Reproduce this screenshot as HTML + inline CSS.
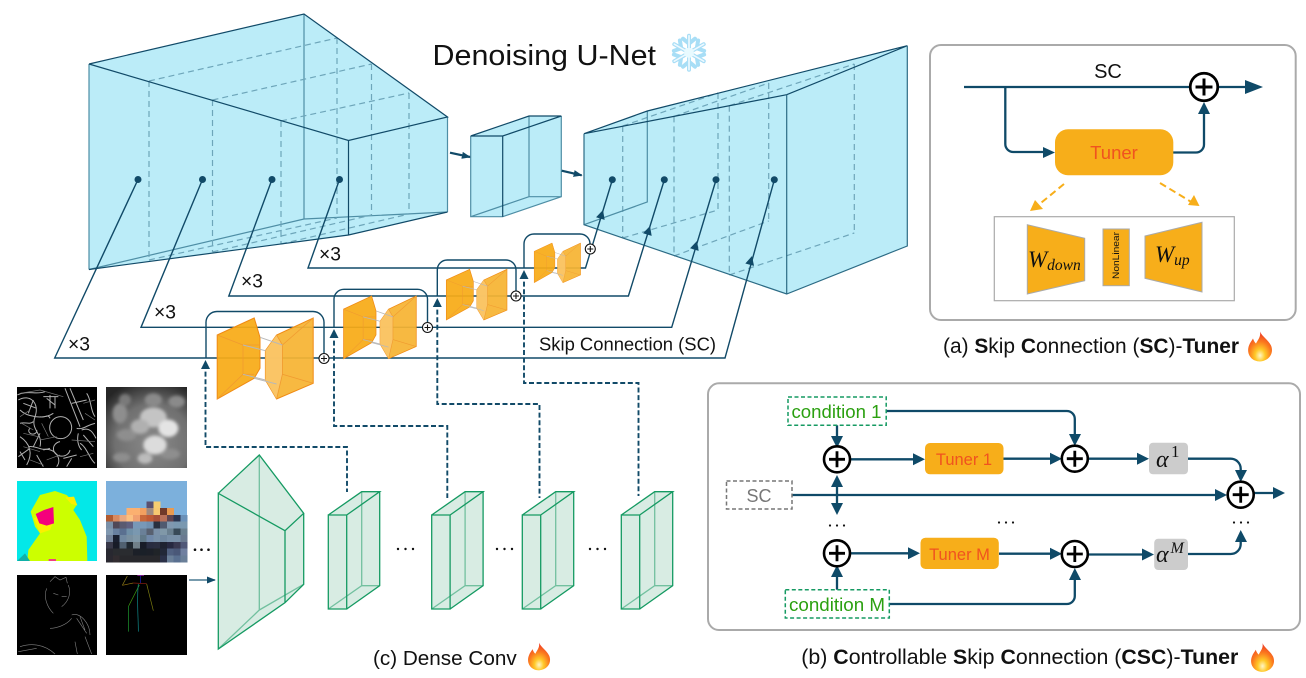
<!DOCTYPE html>
<html><head><meta charset="utf-8"><title>Denoising U-Net diagram</title>
<style>
html,body{margin:0;padding:0;background:#fff}
svg{display:block}
text{font-family:"Liberation Sans",sans-serif}
.m rect{width:1.03px;height:1.03px}
.l{fill:none;stroke:#114a68;stroke-width:1.4}
.t{fill:none;stroke:#0f4a68;stroke-width:2.3}
.d{fill:none;stroke:#114a68;stroke-width:1.9;stroke-dasharray:5 2.6}
.bk{fill:none;stroke:#114a68;stroke-width:1.2}
.bb{fill:none;stroke:#4e8ea5;stroke-width:1.2}
.bd{fill:none;stroke:#6ea6ba;stroke-width:1.2;stroke-dasharray:6 4}
.gk{fill:none;stroke:#159a62;stroke-width:1.3}
.gb{fill:none;stroke:#72c09f;stroke-width:1.3}
text.m2{font-family:"Liberation Serif",serif;font-style:italic}
text.r2{font-family:"Liberation Serif",serif}
</style></head><body>
<svg width="1306" height="678" viewBox="0 0 1306 678" xmlns="http://www.w3.org/2000/svg">
<defs>
<marker id="a" viewBox="0 0 10 10" refX="9" refY="5" markerWidth="9" markerHeight="7" orient="auto" markerUnits="userSpaceOnUse" preserveAspectRatio="none"><path d="M0 0L10 5L0 10z" fill="#114a68"/></marker>
<path id="ah" d="M-4.500 -9L0 0L4.500 -9z" fill="#114a68"/>
<radialGradient id="fl" cx="50%" cy="80%" r="75%"><stop offset="0" stop-color="#fff6c8"/><stop offset=".28" stop-color="#ffc928"/><stop offset=".62" stop-color="#fb7a1e"/><stop offset="1" stop-color="#ee3d27"/></radialGradient>
<symbol id="flame" viewBox="0 0 26 30"><path d="M13 0C15 5 21 8 24 14C27 21 23 29 13 30C4 30 -1 22 2 14C3 11 5 9 6 7C7 10 8 11 9 12C11 8 14 5 13 0z" fill="url(#fl)"/></symbol>
<filter id="b2" x="-30%" y="-30%" width="160%" height="160%"><feGaussianBlur stdDeviation="5"/></filter>
<radialGradient id="dp" cx="58%" cy="68%" r="78%"><stop offset="0" stop-color="#8a8a8a"/><stop offset=".6" stop-color="#707070"/><stop offset="1" stop-color="#262626"/></radialGradient>
<g id="orb">
<polygon points="0,17 37,0 42.8,19.3 42.8,50.3 37,60.3 0,81" fill="#f7ab17" fill-opacity=".93" stroke="#f08a14" stroke-width="1"/>
<polygon points="48.2,32.7 59.4,17 96,0 96,65.3 59.4,81 48.2,62" fill="#f6b433" fill-opacity=".93" stroke="#f08a14" stroke-width="1"/>
<polygon points="48.2,32.7 59.4,17 65.2,27 65.2,56.3 59.4,81 48.2,62" fill="#f9c66a" fill-opacity=".9"/>
<path d="M25.8 27V56.3M25.8 27H42.8M25.8 56.3H37M0 17L25.8 27M0 81L25.8 56.3M65.2 27V56.3M65.2 27L96 0M65.2 56.3L96 65.3M59.4 17L65.2 27M59.4 81L65.2 56.3" fill="none" stroke="#f09a30" stroke-width=".8"/>
<path d="M25.8 27L48.2 32.7M42.8 19.3L65.2 27M25.8 56.3L48.2 62M37 60.3L59.4 66" fill="none" stroke="#b8b8b8" stroke-width="1"/>
</g>
<g id="gs">
<polygon points="0,23.3 33.4,0 51.4,0 51.4,94 18.4,117.3 0,117.3" fill="#d8ece3"/>
<path class="gb" d="M33.4 0V94L0 117.3M33.4 94H51.4"/>
<path class="gk" d="M0 23.3H18.4V117.3H0zM0 23.3L33.4 0H51.4L18.4 23.3M51.4 0V94L18.4 117.3"/>
</g>
<g id="plus"><circle r="13" fill="#fff" stroke="#000" stroke-width="2.6"/><path d="M-8 0H8M0 -8V8" stroke="#000" stroke-width="2.8"/></g>
<g id="sp"><circle r="5" fill="#fff" stroke="#111" stroke-width="1.1"/><path d="M-3 0H3M0 -3V3" stroke="#111" stroke-width="1.1"/></g>
</defs>

<!-- left blue block -->
<polygon points="89,64 304,14 447.5,117 447.5,212 348.5,235 89,269.5" fill="#bbecf8"/>
<path class="bb" d="M304 14V219M89 269.5L304 219L447.5 212M89 64V269.5M447.5 117V212"/>
<path class="bd" d="M149 81V260M212.5 100V252M281 121V244M337 38V218M371.5 64V215M409 93V214M149 81L337 38M212.5 100L371.5 64M281 121L409 93M149 260L337 218M212.5 252L371.5 215M281 244L409 214"/>
<path class="bk" d="M89 64L304 14L447.5 117L348.5 140.5L89 64M348.5 140.5V235M89 269.5L348.5 235L447.5 212"/>

<!-- middle block -->
<polygon points="470.7,136 529,116 561.3,116 561.3,196.7 502.7,216.7 470.7,216.7" fill="#bbecf8"/>
<path class="bb" d="M470.7 136V216.7H502.7L561.3 196.7V116M529 116V196.7H561.3M470.7 216.7L529 196.7"/>
<path class="bk" d="M470.7 136L529 116H561.3L502.7 136H470.7M502.7 136V216.7"/>

<!-- right block -->
<polygon points="584,133.7 647.3,111 907.3,45.7 907.3,246 786.7,294 584,224.7" fill="#bbecf8"/>
<path class="bd" d="M622.7 126V238M674 116.400V256M729.3 105.700V275M718 93V210M768.7 83V221M854.3 64V233M622.7 238L718 210M674 256L768.7 221M729.3 275L854.3 233M622.7 126L718 93M674 116.400L768.7 83M729.3 105.700L854.3 64"/>
<path class="bb" d="M647.3 111V202L584 224.7"/>
<path class="bk" d="M584 133.7L647.3 111L907.3 45.7L786.7 94.7L584 133.7"/>
<path class="bk" d="M584 133.7V224.7L786.7 294L907.3 246V45.7M786.7 94.7V294" style="stroke:#2c6b85"/>

<path d="M450 152.700L470 157" stroke="#114a68" stroke-width="2.200" marker-end="url(#a)"/>
<path d="M561.700 170.700L581.700 175.300" stroke="#114a68" stroke-width="2.200" marker-end="url(#a)"/>

<!-- loops and skip lines -->
<g class="l">
<path d="M138 179.500L54.700 358H725L774.300 180"/>
<path d="M202.500 179.500L141 327.300H671.700L716 180"/>
<path d="M272 179.500L228.800 296H628.400L664.300 180"/>
<path d="M339.500 179.500L308 268H585.500L612.300 180"/>
<path d="M206 358V323a11 11 0 0 1 11 -11.500H313a11 11 0 0 1 11 11.500V353"/>
<path d="M334 327V300a10 10 0 0 1 10 -10.700H417.500a10 10 0 0 1 10 10.700V322"/>
<path d="M437.300 296V270a10 10 0 0 1 10 -10H506a10 10 0 0 1 10 10V291"/>
<path d="M524 268V244a10 10 0 0 1 10 -10H580a10 10 0 0 1 10 10V244"/>
</g>
<g fill="#114a68">
<circle cx="138" cy="179.500" r="3.500"/><circle cx="202.500" cy="179.500" r="3.500"/><circle cx="272" cy="179.500" r="3.500"/><circle cx="339.500" cy="179.500" r="3.500"/>
<circle cx="612.300" cy="179.700" r="3.500"/><circle cx="664.300" cy="179.700" r="3.500"/><circle cx="716" cy="179.700" r="3.500"/><circle cx="774.300" cy="179.700" r="3.500"/>
</g>
<use href="#ah" transform="translate(603,210) rotate(197)"/>
<use href="#ah" transform="translate(650,226) rotate(197)"/>
<use href="#ah" transform="translate(697,241) rotate(197)"/>
<use href="#ah" transform="translate(752,256) rotate(195)"/>

<!-- dashed -->
<path class="d" d="M205.500 364V447H347V492"/>
<path class="d" d="M334 333V426H447.300V498"/>
<path class="d" d="M437.300 302V404H539.500V498"/>
<path class="d" d="M524 274V383H638.500V496"/>
<use href="#ah" transform="translate(205.500,360) rotate(180)"/>
<use href="#ah" transform="translate(334,329) rotate(180)"/>
<use href="#ah" transform="translate(437.300,298) rotate(180)"/>
<use href="#ah" transform="translate(524,270) rotate(180)"/>

<!-- orange blocks -->
<use href="#orb" transform="translate(217.200,318)"/>
<use href="#orb" transform="translate(343.600,296) scale(.757,.774)"/>
<use href="#orb" transform="translate(446.300,269.300) scale(.632,.626)"/>
<use href="#orb" transform="translate(534.200,243) scale(.483,.49)"/>
<use href="#sp" x="324" y="358.500"/><use href="#sp" x="427.500" y="327.500"/><use href="#sp" x="516" y="296"/><use href="#sp" x="590.300" y="249"/>

<!-- labels -->
<g font-size="19.300" fill="#111">
<text x="68" y="350.500">×3</text><text x="154" y="318.500">×3</text><text x="241" y="287.500">×3</text><text x="319" y="260.500">×3</text>
</g>
<text x="539" y="350.500" font-size="18.400" fill="#111" textLength="177" lengthAdjust="spacingAndGlyphs">Skip Connection (SC)</text>
<text x="432.500" y="65" font-size="29" fill="#111" textLength="223.500" lengthAdjust="spacingAndGlyphs">Denoising U-Net</text>

<!-- snowflake -->
<g transform="translate(689,52.700)" fill="none" stroke-linecap="round">
<g stroke="#a8def6" stroke-width="4">
<g id="arm6"><path d="M0 0V-17M-6 -14L0 -9L6 -14"/></g>
<use href="#arm6" transform="rotate(60)"/><use href="#arm6" transform="rotate(120)"/><use href="#arm6" transform="rotate(180)"/><use href="#arm6" transform="rotate(240)"/><use href="#arm6" transform="rotate(300)"/>
</g>
<g stroke="#eef9ff" stroke-width="1.600">
<g id="arm7"><path d="M0 0V-17"/></g>
<use href="#arm7" transform="rotate(60)"/><use href="#arm7" transform="rotate(120)"/><use href="#arm7" transform="rotate(180)"/><use href="#arm7" transform="rotate(240)"/><use href="#arm7" transform="rotate(300)"/>
</g>
<circle r="5" fill="#e8faff"/>
</g>

<!-- images, coordinates are 3x -->
<g transform="scale(.33333) translate(0,1140)">
<svg x="51" y="21" width="240" height="243" viewBox="51 21 240 243"><rect x="51" y="21" width="240" height="243" fill="#000"/>
<g fill="none" stroke="#c4c4c4" stroke-width="3" opacity=".9">
<circle cx="182" cy="143" r="33"/><path d="M180 185a25 22 0 1 0 30 25M235 160a25 40 0 0 0 10 50"/>
<path d="M55 60C90 40 120 70 105 110S130 160 120 200M60 90C80 110 130 120 160 100M195 25L240 140M210 25L250 120M140 55L165 75M130 50H175M90 145a12 10 0 1 0 20 5M60 170C90 190 100 220 80 255M130 210C160 200 190 235 170 260M215 235L200 260M245 150C270 140 280 160 288 175M260 40C275 60 270 90 285 110M240 190C260 200 270 240 285 250M55 230L90 205"/>
<path d="M52 45C80 30 110 45 135 35M100 60L85 100M70 70L110 85M150 45V85M165 50V85M120 110C135 115 145 100 150 115M60 130C75 125 90 135 100 125M85 200C110 195 120 215 150 205M230 145C250 150 260 135 285 130M250 165L280 200M110 225L130 260M190 235L230 225M60 215L75 240M215 70L260 60M120 160L100 200"/>
</g>
<g fill="none" stroke="#777" stroke-width="2"><path d="M60 40L120 30L190 50M65 130L100 150M120 180L170 170M250 70L285 60M240 230L280 220M90 240L130 255M70 200L120 215M60 110L90 90M125 130L145 170M70 160L115 170M255 100L285 120M215 180L285 185M140 240L180 225"/></g></svg>

<svg x="318" y="21" width="243" height="243" viewBox="318 21 243 243"><rect x="318" y="21" width="243" height="243" fill="url(#dp)"/>
<g filter="url(#b2)" fill="#8e8e8e"><ellipse cx="360" cy="100" rx="22" ry="30"/><ellipse cx="375" cy="60" rx="18" ry="18" fill="#7a7a7a"/><ellipse cx="460" cy="60" rx="26" ry="20" fill="#8a8a8a"/><ellipse cx="530" cy="65" rx="25" ry="18" fill="#8a8a8a"/><ellipse cx="365" cy="232" rx="26" ry="14"/><ellipse cx="510" cy="222" rx="30" ry="16"/><ellipse cx="380" cy="165" rx="30" ry="18"/></g>
<g filter="url(#b2)" fill="#c4c4c4"><ellipse cx="460" cy="112" rx="40" ry="30"/><ellipse cx="505" cy="145" rx="30" ry="26" fill="#e4e4e4"/><ellipse cx="465" cy="195" rx="35" ry="28" fill="#dcdcdc"/><ellipse cx="420" cy="140" rx="28" ry="22" fill="#b0b0b0"/><ellipse cx="435" cy="235" rx="22" ry="16" fill="#bcbcbc"/></g></svg>

<svg x="51" y="303" width="240" height="240" viewBox="51 303 240 240"><rect x="51" y="303" width="240" height="240" fill="#03e8e8"/>
<path d="M82 543L85 510L120 460L105 440L92 395L120 345L165 333L200 345L230 375L220 390L240 420L260 470L262 543z" fill="#ccff00"/>
<path d="M196 352L222 350L232 376L214 372z" fill="#fbf000"/>
<path d="M102 415L135 400L158 430L150 450L120 460z" fill="#fbf000"/>
<path d="M107 402L132 390L160 381L162 430L140 437L118 430z" fill="#f5007c"/>
<path d="M51 543L75 520L90 543z" fill="#10b0a8"/><path d="M146 537H168V543H146z" fill="#f04080"/></svg>

<g class="m" transform="translate(318,303) scale(20.300)" shape-rendering="crispEdges">
<rect x="0" y="0" style="width:12px;height:12.05px" fill="#7cb0dc"/>
<rect x="6" y="3" fill="#5a5070"/><rect x="7" y="3" fill="#f8cd70"/>
<rect x="3" y="4" fill="#fbb070"/><rect x="4" y="4" fill="#fbb070"/><rect x="5" y="4" fill="#f2a060"/><rect x="6" y="4" fill="#a08a80"/><rect x="7" y="4" fill="#f8c870"/><rect x="8" y="4" fill="#70392a"/><rect x="9" y="4" fill="#e89a50"/>
<rect x="0" y="5" fill="#b05a30"/><rect x="1" y="5" fill="#d88a60"/><rect x="2" y="5" fill="#e8a880"/><rect x="3" y="5" fill="#fcc080"/><rect x="4" y="5" fill="#f0a070"/><rect x="5" y="5" fill="#c8683a"/><rect x="6" y="5" fill="#c05a35"/><rect x="7" y="5" fill="#a85038"/><rect x="8" y="5" fill="#b8705a"/><rect x="9" y="5" fill="#604550"/><rect x="10" y="5" fill="#2a3550"/><rect x="11" y="5" fill="#6a90b8"/>
<rect x="0" y="6" fill="#7a90a8"/><rect x="1" y="6" fill="#504858"/><rect x="2" y="6" fill="#5a5a70"/><rect x="3" y="6" fill="#606080"/><rect x="4" y="6" fill="#7898b8"/><rect x="5" y="6" fill="#7898b8"/><rect x="6" y="6" fill="#7090b0"/><rect x="7" y="6" fill="#283040"/><rect x="8" y="6" fill="#505a70"/><rect x="9" y="6" fill="#8098b0"/><rect x="10" y="6" fill="#7a98b0"/><rect x="11" y="6" fill="#7a98b0"/>
<rect x="0" y="7" fill="#8098b0"/><rect x="1" y="7" fill="#6880a0"/><rect x="2" y="7" fill="#5a7090"/><rect x="3" y="7" fill="#7090a8"/><rect x="4" y="7" fill="#7a98b0"/><rect x="5" y="7" fill="#6a8098"/><rect x="6" y="7" fill="#586070"/><rect x="7" y="7" fill="#7a90a8"/><rect x="8" y="7" fill="#8098a8"/><rect x="9" y="7" fill="#6a8090"/><rect x="10" y="7" fill="#384a58"/><rect x="11" y="7" fill="#6a8090"/>
<rect x="0" y="8" fill="#708098"/><rect x="1" y="8" fill="#1a2030"/><rect x="2" y="8" fill="#7088a0"/><rect x="3" y="8" fill="#7a90a0"/><rect x="4" y="8" fill="#8098a8"/><rect x="5" y="8" fill="#607888"/><rect x="6" y="8" fill="#7088a8"/><rect x="7" y="8" fill="#7890a8"/><rect x="8" y="8" fill="#7088a0"/><rect x="9" y="8" fill="#7890a8"/><rect x="10" y="8" fill="#7890a8"/><rect x="11" y="8" fill="#6a7a90"/>
<rect x="0" y="9" fill="#383848"/><rect x="1" y="9" fill="#181c28"/><rect x="2" y="9" fill="#506070"/><rect x="3" y="9" fill="#202830"/><rect x="4" y="9" fill="#707f88"/><rect x="5" y="9" fill="#181c28"/><rect x="6" y="9" fill="#282c40"/><rect x="7" y="9" fill="#2a2e40"/><rect x="8" y="9" fill="#1e2230"/><rect x="9" y="9" fill="#262840"/><rect x="10" y="9" fill="#383850"/><rect x="11" y="9" fill="#505878"/>
<rect x="0" y="10" fill="#282830"/><rect x="1" y="10" fill="#2a2c30"/><rect x="2" y="10" fill="#2a2c30"/><rect x="3" y="10" fill="#2a2c30"/><rect x="4" y="10" fill="#1c2028"/><rect x="5" y="10" fill="#1a2028"/><rect x="6" y="10" fill="#1c2028"/><rect x="7" y="10" fill="#202428"/><rect x="8" y="10" fill="#222838"/><rect x="9" y="10" fill="#506080"/><rect x="10" y="10" fill="#4a5878"/><rect x="11" y="10" fill="#7080a0"/>
<rect x="0" y="11" fill="#2a2830"/><rect x="1" y="11" fill="#322c30"/><rect x="2" y="11" fill="#28282c"/><rect x="3" y="11" fill="#28282c"/><rect x="4" y="11" fill="#28282c"/><rect x="5" y="11" fill="#28282c"/><rect x="6" y="11" fill="#28282c"/><rect x="7" y="11" fill="#28282c"/><rect x="8" y="11" fill="#2a3048"/><rect x="9" y="11" fill="#6a7f98"/><rect x="10" y="11" fill="#5a7090"/><rect x="11" y="11" fill="#6a7f98"/>
</g>

<svg x="51" y="585" width="240" height="240" viewBox="51 585 240 240"><rect x="51" y="585" width="240" height="240" fill="#000"/>
<g fill="none" stroke="#808080" stroke-width="1.800">
<path d="M150 605L165 590L180 600L198 592L202 610M140 625C130 650 140 680 160 700M205 615C215 640 205 665 185 680M160 640L175 645M185 650H200M150 745C170 745 200 735 215 715M215 705C240 695 270 730 270 765M230 715L260 760M240 710L255 750M60 800C90 790 130 790 165 822M55 815L110 805M225 785L232 822M255 770L275 822"/></g></svg>

<svg x="318" y="585" width="243" height="240" viewBox="318 585 243 240"><rect x="318" y="585" width="243" height="240" fill="#000"/>
<g fill="none" stroke-width="2"><path d="M412 585H432" stroke="#b020c0" stroke-width="4"/><path d="M422 587V610" stroke="#2020c0"/><path d="M382 588L367 616" stroke="#90801a"/><path d="M367 616L400 609" stroke="#907010"/><path d="M400 609L440 611" stroke="#902010"/><path d="M418 615L386 678" stroke="#40a010"/><path d="M440 612L460 692" stroke="#808010"/><path d="M386 678V755" stroke="#20a030"/><path d="M415 612C410 660 415 710 415 755" stroke="#109090"/></g></svg>
</g>

<g fill="#111"><circle cx="195" cy="549.700" r="1.300"/><circle cx="201.500" cy="549.700" r="1.300"/><circle cx="208.500" cy="549.700" r="1.300"/></g>
<path d="M189 580H215" stroke="#4a7a92" stroke-width="1.500" marker-end="url(#a)"/>

<!-- green -->
<polygon points="218.300,493.300 259.300,455 303.700,513.300 303.700,584.300 285,602.700 218.300,649" fill="#d8ece3"/>
<path class="gb" d="M259.300 455V610L218.300 649M259.300 610L303.700 584.300"/>
<path class="gk" d="M218.300 493.300L259.300 455L303.700 513.300L285 530.700L218.300 493.300V649L285 602.700V530.700M303.700 513.300V584.300L285 602.700"/>
<use href="#gs" transform="translate(328.300,491.700)"/>
<use href="#gs" transform="translate(431.700,491.700)"/>
<use href="#gs" transform="translate(522.300,491.700)"/>
<use href="#gs" transform="translate(621.300,491.700)"/>
<g fill="#111"><circle cx="398" cy="549" r="1.200"/><circle cx="405.500" cy="549" r="1.200"/><circle cx="413" cy="549" r="1.200"/>
<circle cx="497" cy="549" r="1.200"/><circle cx="504.500" cy="549" r="1.200"/><circle cx="512" cy="549" r="1.200"/>
<circle cx="590" cy="549" r="1.200"/><circle cx="597.500" cy="549" r="1.200"/><circle cx="605" cy="549" r="1.200"/></g>

<text x="373" y="665" font-size="20.700" fill="#111" textLength="143.700" lengthAdjust="spacingAndGlyphs">(c) Dense Conv</text>
<use href="#flame" x="527" y="642" width="24" height="29"/>

<!-- panel a -->
<rect x="930" y="45" width="365.700" height="275" rx="11" fill="#fff" stroke="#aaa" stroke-width="2"/>
<text x="1108" y="78" font-size="20" fill="#111" text-anchor="middle">SC</text>
<path class="t" d="M964 87H1247"/><path d="M1245 80L1263 87L1245 94z" fill="#0f4a68"/>
<path class="t" d="M1005.300 87V144a8 8 0 0 0 8 8H1045"/><path d="M1043 147L1055 152.500L1043 158z" fill="#0f4a68"/>
<path class="t" d="M1173 152.500H1196a8 8 0 0 0 8 -8V112"/><path d="M1198 114L1204 102L1210 114z" fill="#0f4a68"/>
<use href="#plus" transform="translate(1204,87) scale(1.060)"/>
<rect x="1055" y="129.300" width="118.300" height="46" rx="13" fill="#f7ae1a"/>
<text x="1114" y="159" font-size="18.500" fill="#f0531f" text-anchor="middle">Tuner</text>
<path d="M1064 184L1036 207" stroke="#f7ae1a" stroke-width="2" stroke-dasharray="7 4" fill="none"/><path d="M1030 211L1035 200L1043 209z" fill="#f7ae1a"/>
<path d="M1160 183L1193 203" stroke="#f7ae1a" stroke-width="2" stroke-dasharray="7 4" fill="none"/><path d="M1199.500 206L1188 205L1194 195z" fill="#f7ae1a"/>
<rect x="994.300" y="216.700" width="240" height="84" fill="#fff" stroke="#aaa" stroke-width="1.200"/>
<polygon points="1027.300,224.700 1084.700,238.300 1084.700,280.700 1027.300,294" fill="#f7ae1a" stroke="#aaa"/>
<rect x="1103" y="229" width="26.300" height="56.700" fill="#f7ae1a" stroke="#aaa"/>
<polygon points="1145,236 1202,222.300 1202,292 1145,278.300" fill="#f7ae1a" stroke="#aaa"/>
<text x="1028" y="267" class="m2" font-size="23" fill="#111">W<tspan font-size="15.500" dy="3">down</tspan></text>
<text x="1155" y="262" class="m2" font-size="23" fill="#111">W<tspan font-size="15.500" dy="3">up</tspan></text>
<text transform="translate(1119,279) rotate(-90)" font-size="9.500" fill="#111" textLength="47" lengthAdjust="spacingAndGlyphs">NonLinear</text>
<text x="943" y="353" font-size="20.800" fill="#111" textLength="296" lengthAdjust="spacingAndGlyphs">(a) <tspan font-weight="bold">S</tspan>kip <tspan font-weight="bold">C</tspan>onnection (<tspan font-weight="bold">SC</tspan>)-<tspan font-weight="bold">Tuner</tspan></text>
<use href="#flame" x="1247" y="331" width="26" height="31"/>

<!-- panel b -->
<rect x="708" y="383.300" width="592" height="246.700" rx="11" fill="#fff" stroke="#aaa" stroke-width="2"/>
<g class="t">
<path d="M886 411H1066.800a8 8 0 0 1 8 8V436"/>
<path d="M889 604H1066.800a8 8 0 0 0 8 -8V578"/>
<path d="M837 425V438"/><path d="M837 590V575"/>
<path d="M851 459.300H915"/><path d="M1003 458.700H1052"/><path d="M1088 458.700H1139"/>
<path d="M1188 458.700H1230.700a10 10 0 0 1 10 10V472"/>
<path d="M792 495H1217"/><path d="M1254 493H1273"/>
<path d="M837 485V505"/>
<path d="M851 553.300H911"/><path d="M999 553.700H1052"/><path d="M1088 554.500H1144"/>
<path d="M1188 554H1230.700a10 10 0 0 0 10 -10V540"/>
</g>
<g fill="#0f4a68">
<path d="M831 436L837 448L843 436z"/><path d="M831 577L837 565L843 577z"/>
<path d="M1069 434L1074.800 446L1081 434z"/><path d="M1069 580L1074.800 568L1081 580z"/>
<path d="M913 453.300L925 459.300L913 465.300z"/><path d="M1050 452.700L1062 458.700L1050 464.700z"/><path d="M1137 452.700L1149 458.700L1137 464.700z"/>
<path d="M1235 470L1240.700 482L1247 470z"/>
<path d="M1215 489L1227 495L1215 501z"/><path d="M1273 487L1285 493L1273 499z"/>
<path d="M831 487L837 475L843 487z"/><path d="M831 503L837 515L843 503z"/>
<path d="M908 547.300L920 553.300L908 559.300z"/><path d="M1050 547.700L1062 553.700L1050 559.700z"/><path d="M1142 548.500L1154 554.500L1142 560.500z"/>
<path d="M1235 542L1240.700 530L1247 542z"/>
</g>
<rect x="788" y="397" width="98.200" height="28.300" fill="#fff" stroke="#159a62" stroke-width="1.500" stroke-dasharray="4 2.500"/>
<text x="791.500" y="418" font-size="18.600" fill="#2ba010" textLength="90" lengthAdjust="spacingAndGlyphs">condition 1</text>
<rect x="785.300" y="589.700" width="104" height="28.300" fill="#fff" stroke="#159a62" stroke-width="1.500" stroke-dasharray="4 2.500"/>
<text x="789" y="611" font-size="18.600" fill="#2ba010" textLength="96" lengthAdjust="spacingAndGlyphs">condition M</text>
<rect x="726.500" y="481" width="65.500" height="28" fill="#fff" stroke="#777" stroke-width="1.500" stroke-dasharray="4 2.500"/>
<text x="759" y="502" font-size="18" fill="#777" text-anchor="middle">SC</text>
<use href="#plus" x="837" y="459.300"/><use href="#plus" x="1074.800" y="458.700"/><use href="#plus" x="1240.700" y="494.700"/><use href="#plus" x="837" y="553.300"/><use href="#plus" x="1074.800" y="554"/>
<rect x="925" y="443" width="78.500" height="31.300" rx="5" fill="#f7ae1a"/>
<text x="964" y="465" font-size="16.500" fill="#f0531f" text-anchor="middle">Tuner 1</text>
<rect x="920.500" y="537.700" width="78.300" height="31.300" rx="5" fill="#f7ae1a"/>
<text x="959.500" y="560" font-size="16.500" fill="#f0531f" text-anchor="middle">Tuner M</text>
<rect x="1149" y="442.700" width="39" height="31.600" rx="4" fill="#ccc"/>
<text x="1156" y="467" class="m2" font-size="24" fill="#111">α</text><text x="1171" y="457" class="r2" font-size="17" fill="#111">1</text>
<rect x="1154.200" y="538.700" width="33.800" height="31.300" rx="4" fill="#ccc"/>
<text x="1156" y="562" class="m2" font-size="24" fill="#111">α</text><text x="1170.500" y="553" class="m2" font-size="16" fill="#111">M</text>
<g fill="#111">
<circle cx="830" cy="525.500" r="1.100"/><circle cx="837" cy="525.500" r="1.100"/><circle cx="844" cy="525.500" r="1.100"/>
<circle cx="999" cy="522.500" r="1.100"/><circle cx="1006" cy="522.500" r="1.100"/><circle cx="1013" cy="522.500" r="1.100"/>
<circle cx="1234" cy="522.500" r="1.100"/><circle cx="1241" cy="522.500" r="1.100"/><circle cx="1248" cy="522.500" r="1.100"/>
</g>
<text x="801.300" y="664" font-size="20.800" fill="#111" textLength="437" lengthAdjust="spacingAndGlyphs">(b) <tspan font-weight="bold">C</tspan>ontrollable <tspan font-weight="bold">S</tspan>kip <tspan font-weight="bold">C</tspan>onnection (<tspan font-weight="bold">CSC</tspan>)-<tspan font-weight="bold">Tuner</tspan></text>
<use href="#flame" x="1250" y="643" width="25" height="29"/>
</svg>
</body></html>
